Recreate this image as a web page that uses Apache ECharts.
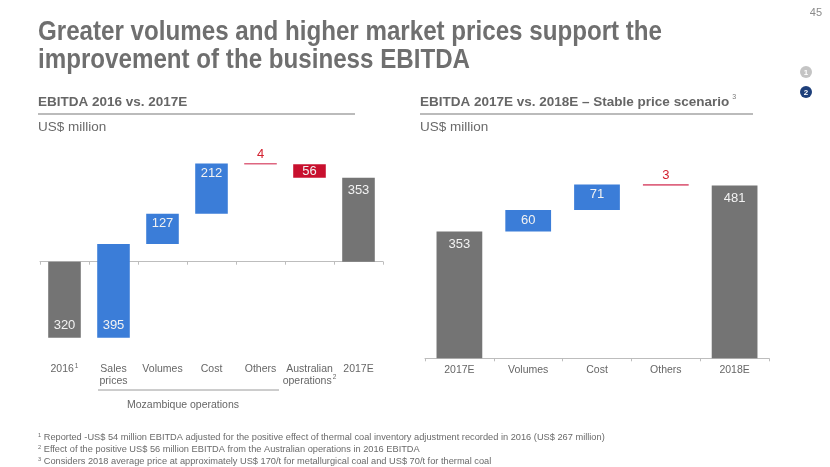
<!DOCTYPE html>
<html>
<head>
<meta charset="utf-8">
<script src="https://cdn.jsdelivr.net/npm/echarts@6/dist/echarts.min.js"></script>
<style>
html,body{margin:0;padding:0;background:#fff;}
#chart{width:830px;height:467px;}
</style>
</head>
<body>
<div id="chart"></div>
<script>
// ---------- data ----------
const titleLines = ['Greater volumes and higher market prices support the', 'improvement of the business EBITDA'];
const leftTitle = 'EBITDA 2016 vs. 2017E';
const rightTitle = 'EBITDA 2017E vs. 2018E \u2013 Stable price scenario';
const unitText = 'US$ million';

const leftCategories = ['2016', 'Sales\nprices', 'Volumes', 'Cost', 'Others', 'Australian\noperations', '2017E'];
const leftNotes = ['1', '', '', '', '', '2', ''];
const leftValues = [-320, 395, 127, 212, -4, -56, 353];
const leftKinds = ['total', 'delta', 'delta', 'delta', 'delta', 'delta', 'total'];

const rightCategories = ['2017E', 'Volumes', 'Cost', 'Others', '2018E'];
const rightValues = [353, 60, 71, -3, 481];
const rightKinds = ['total', 'delta', 'delta', 'delta', 'total'];

const groupLabel = 'Mozambique operations';
const footnotes = [
  ['1', 'Reported -US$ 54 million EBITDA adjusted for the positive effect of thermal coal inventory adjustment recorded in 2016 (US$ 267 million)'],
  ['2', 'Effect of the positive US$ 56 million EBITDA from the Australian operations in 2016 EBITDA'],
  ['3', 'Considers 2018 average price at approximately US$ 170/t for metallurgical coal and US$ 70/t for thermal coal']
];

// ---------- helpers ----------
const FF = '"Liberation Sans", Arial, sans-serif';
const GRAY = '#747474', BLUE = '#3b7dd8', RED = '#c8102e';

function buildSteps(values, kinds) {
  let run = 0;
  return values.map((v, i) => {
    if (kinds[i] === 'total') {
      run = v;
      return { lo: Math.min(0, v), hi: Math.max(0, v), v: v, kind: 'total' };
    }
    const s = run; run += v;
    return { lo: Math.min(s, run), hi: Math.max(s, run), v: v, kind: v >= 0 ? 'up' : 'down' };
  });
}
const leftSteps = buildSteps(leftValues, leftKinds);
const rightSteps = buildSteps(rightValues, rightKinds);

function measure(text, font) {
  const c = document.createElement('canvas').getContext('2d');
  c.font = font;
  return c.measureText(text).width;
}

function makeRender(steps) {
  return function (params, api) {
    const i = params.dataIndex;
    const s = steps[i];
    const cx = api.coord([i, 0])[0];
    const bw = api.size([1, 0])[0] * 0.665;
    const yTop = api.coord([i, s.hi])[1];
    const yBot = api.coord([i, s.lo])[1];
    const h = yBot - yTop;
    const label = String(Math.abs(s.v));
    if (h < 3) {
      return {
        type: 'group',
        children: [
          { type: 'rect', shape: { x: cx - bw / 2, y: yTop - 0.5, width: bw, height: Math.max(h, 1.6) }, style: { fill: '#de6680' } },
          { type: 'text', style: { text: label, x: cx, y: yTop - 9, align: 'center', verticalAlign: 'middle', fill: '#d3202f', font: '13px ' + FF } }
        ]
      };
    }
    const color = s.kind === 'total' ? GRAY : (s.kind === 'up' ? BLUE : RED);
    let ly;
    if (s.lo < 0) ly = yBot - 12;
    else if (s.kind === 'total') ly = yTop + 13;
    else ly = yTop + Math.min(10, h / 2);
    return {
      type: 'group',
      children: [
        { type: 'rect', shape: { x: cx - bw / 2, y: yTop, width: bw, height: h }, style: { fill: color } },
        { type: 'text', style: { text: label, x: cx, y: ly, align: 'center', verticalAlign: 'middle', fill: '#f2f2f2', font: '13px ' + FF } }
      ]
    };
  };
}

// ---------- text scaling ----------
const titleFont = 'bold 28px ' + FF;
const titleScale = 624 / measure(titleLines[0], titleFont);
const fnFont = '9px ' + FF;
const fnScale = 561 / measure(footnotes[0][1], fnFont);

const graphics = [];
titleLines.forEach((t, k) => {
  graphics.push({ type: 'text', x: 38, y: 32.5 + k * 28, scaleX: titleScale,
    style: { text: t, font: titleFont, fill: '#6f6f6f', verticalAlign: 'middle' } });
});
graphics.push({ type: 'text', x: 822, y: 13, style: { text: '45', font: '11px ' + FF, fill: '#8a8a8a', align: 'right', verticalAlign: 'middle' } });
graphics.push({ type: 'circle', shape: { cx: 806, cy: 72, r: 6 }, style: { fill: '#c4c4c4' } });
graphics.push({ type: 'text', x: 806, y: 72.5, style: { text: '1', font: 'bold 8px ' + FF, fill: '#fff', align: 'center', verticalAlign: 'middle' } });
graphics.push({ type: 'circle', shape: { cx: 806, cy: 92, r: 6 }, style: { fill: '#1d3f7a' } });
graphics.push({ type: 'text', x: 806, y: 92.5, style: { text: '2', font: 'bold 8px ' + FF, fill: '#fff', align: 'center', verticalAlign: 'middle' } });

// subtitles
graphics.push({ type: 'text', x: 38, y: 102, style: { text: leftTitle, font: 'bold 13.5px ' + FF, fill: '#666', verticalAlign: 'middle' } });
graphics.push({ type: 'line', shape: { x1: 38, y1: 114, x2: 355, y2: 114 }, style: { stroke: '#a5a5a5', lineWidth: 1.5 } });
graphics.push({ type: 'text', x: 38, y: 127.5, style: { text: unitText, font: '13.5px ' + FF, fill: '#6a6a6a', verticalAlign: 'middle' } });

graphics.push({ type: 'text', x: 420, y: 102, style: {
  text: rightTitle + '{sup|3}', font: 'bold 13.5px ' + FF, fill: '#666', verticalAlign: 'middle',
  rich: { sup: { font: '7px ' + FF, fill: '#777', padding: [0, 0, 9, 3] } } } });
graphics.push({ type: 'line', shape: { x1: 420, y1: 114, x2: 753, y2: 114 }, style: { stroke: '#a5a5a5', lineWidth: 1.5 } });
graphics.push({ type: 'text', x: 420, y: 127.5, style: { text: unitText, font: '13.5px ' + FF, fill: '#6a6a6a', verticalAlign: 'middle' } });

// group bracket
graphics.push({ type: 'line', shape: { x1: 98, y1: 390, x2: 279, y2: 390 }, style: { stroke: '#9a9a9a', lineWidth: 1 } });
graphics.push({ type: 'text', x: 183, y: 405, style: { text: groupLabel, font: '10.5px ' + FF, fill: '#666', align: 'center', verticalAlign: 'middle' } });

// footnotes
footnotes.forEach((f, k) => {
  graphics.push({ type: 'text', x: 38, y: 438 + k * 12, scaleX: fnScale, style: {
    text: '{s|' + f[0] + '} ' + f[1], font: fnFont, fill: '#6a6a6a', verticalAlign: 'middle',
    rich: { s: { font: '5.5px ' + FF, fill: '#6a6a6a', padding: [0, 0, 5, 0] } } } });
});

// ---------- chart ----------
const chart = echarts.init(document.getElementById('chart'), null, { renderer: 'canvas' });

const labelRich = { sup: { fontSize: 6.5, color: '#666', padding: [0, 0, 7, 1] } };
const axisLabelBase = { color: '#666', fontSize: 10.5, fontFamily: FF, lineHeight: 11.5, interval: 0, rich: labelRich };

const option = {
  animation: false,
  backgroundColor: '#fff',
  textStyle: { fontFamily: FF },
  grid: [
    { left: 40, top: 142.95, width: 343, height: 213.75 },
    { left: 425, top: 178.8, width: 344, height: 179.5 }
  ],
  xAxis: [
    { type: 'category', gridIndex: 0, position: 'bottom', data: leftCategories,
      axisLine: { show: false, onZero: false }, axisTick: { show: false },
      axisLabel: Object.assign({}, axisLabelBase, { margin: 7,
        formatter: (v, idx) => leftNotes[idx] ? v + '{sup|' + leftNotes[idx] + '}' : v }) },
    { type: 'category', gridIndex: 0, position: 'top', data: leftCategories,
      axisLine: { show: true, onZero: true, lineStyle: { color: '#bdbdbd', width: 1 } },
      axisTick: { show: true, inside: true, length: 3, interval: 0, lineStyle: { color: '#bdbdbd' } },
      axisLabel: { show: false } },
    { type: 'category', gridIndex: 1, position: 'bottom', data: rightCategories,
      axisLine: { show: true, lineStyle: { color: '#bdbdbd', width: 1 } },
      axisTick: { show: true, length: 3, interval: 0, lineStyle: { color: '#bdbdbd' } },
      axisLabel: Object.assign({}, axisLabelBase, { margin: 6 }) }
  ],
  yAxis: [
    { type: 'value', gridIndex: 0, min: -400, max: 500, show: false, splitLine: { show: false } },
    { type: 'value', gridIndex: 1, min: 0, max: 500, show: false, splitLine: { show: false } }
  ],
  series: [
    { type: 'custom', xAxisIndex: 0, yAxisIndex: 0, clip: false,
      renderItem: makeRender(leftSteps), encode: { x: 0, y: [1, 2] },
      data: leftSteps.map((s, i) => [i, s.lo, s.hi]) },
    { type: 'custom', xAxisIndex: 2, yAxisIndex: 1, clip: false,
      renderItem: makeRender(rightSteps), encode: { x: 0, y: [1, 2] },
      data: rightSteps.map((s, i) => [i, s.lo, s.hi]) }
  ],
  graphic: graphics
};
chart.setOption(option);
</script>
</body>
</html>
